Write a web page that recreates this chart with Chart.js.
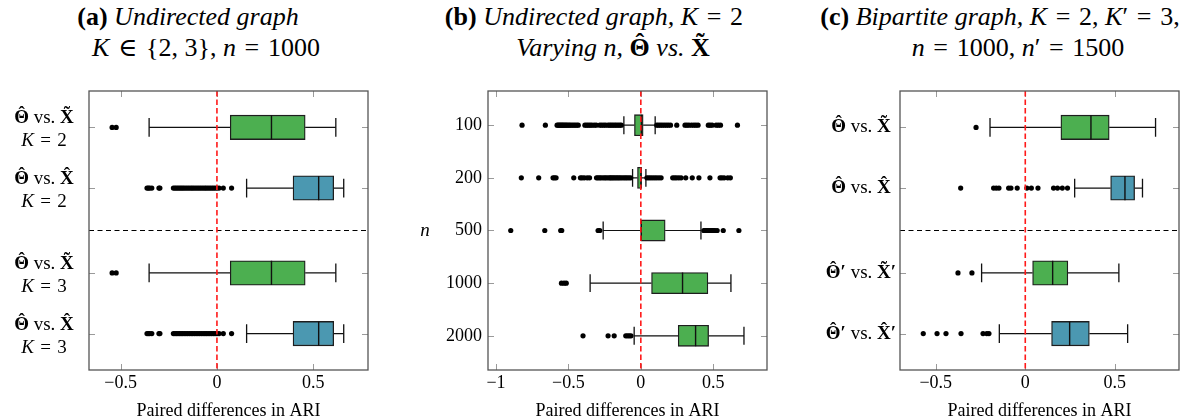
<!DOCTYPE html>
<html>
<head>
<meta charset="utf-8">
<script src="https://cdn.jsdelivr.net/npm/chart.js@4.4.1/dist/chart.umd.min.js"></script>
<style>
  body { margin: 0; width: 1202px; height: 420px; overflow: hidden; background: #fff; position: relative;
         font-family: "Liberation Serif", "DejaVu Serif", serif; color: #000; }
  .title { position: absolute; font-size: 26px; line-height: 30px; white-space: nowrap; transform: translateX(-50%); }
  .acc { position: relative; }
  .acc::after { content: attr(data-a); position: absolute; left: 0; right: 0; text-align: center; top: -0.2em; }
  .panel { position: absolute; top: 60px; height: 370px; }
</style>
</head>
<body>
<div class="title" style="left:188px; top:2px"><b>(a)</b> <i>Undirected graph</i></div>
<div class="title" style="left:206px; top:33px"><i>K</i>&#x2004;∈&#x2004;{2, 3}, <i>n</i>&#x2004;=&#x2004;1000</div>
<div class="title" style="left:594px; top:2px"><b>(b)</b> <i>Undirected graph, K</i>&#x2004;=&#x2004;2</div>
<div class="title" style="left:613px; top:33px"><i>Varying n,</i> <b class="acc" data-a="ˆ">Θ</b> <i>vs.</i> <b class="acc" data-a="˜">X</b></div>
<div class="title" style="left:1000px; top:2px"><b>(c)</b> <i>Bipartite graph, K</i>&#x2004;=&#x2004;2, <i>K</i>′&#x2004;=&#x2004;3,</div>
<div class="title" style="left:1018px; top:33px"><i>n</i>&#x2004;=&#x2004;1000, <i>n</i>′&#x2004;=&#x2004;1500</div>

<div class="panel" style="left:0; width:400px"><canvas id="chartA"></canvas></div>
<div class="panel" style="left:400px; width:400px"><canvas id="chartB"></canvas></div>
<div class="panel" style="left:800px; width:402px"><canvas id="chartC"></canvas></div>

<script>
// ---- panel (a): undirected graph, K in {2,3}, n = 1000
const rowsA = [1, 2, 3.4, 4.4];
const labelsA = [['**Θ̂** vs. **X̃**', '*K* = 2'], ['**Θ̂** vs. **X̂**', '*K* = 2'],
                 ['**Θ̂** vs. **X̃**', '*K* = 3'], ['**Θ̂** vs. **X̂**', '*K* = 3']];
const colorsA = ['green', 'blue', 'green', 'blue'];
const loA  = [-0.352, 0.154, -0.352, 0.154];
const q1A  = [0.069, 0.395, 0.069, 0.395];
const medA = [0.283, 0.528, 0.283, 0.528];
const q3A  = [0.458, 0.606, 0.458, 0.606];
const hiA  = [0.617, 0.658, 0.617, 0.658];
const outBlueA = [-0.363, -0.356, -0.349, -0.338, -0.301, -0.296, -0.226, -0.218, -0.210, -0.202, -0.194,
                  -0.186, -0.178, -0.170, -0.161, -0.152, -0.143, -0.134, -0.126, -0.117, -0.108, -0.099,
                  -0.090, -0.081, -0.072, -0.063, -0.055, -0.046, -0.037, -0.028, -0.019, -0.010, 0.000,
                  0.011, 0.033, 0.076];
const outA = [[-0.544, -0.523], outBlueA, [-0.544, -0.523], outBlueA];
const xTicksA = [-0.5, 0, 0.5];

// ---- panel (b): undirected graph, K = 2, varying n
const rowsB = [1, 2, 3, 4, 5];
const labelsB = ['100', '200', '500', '1000', '2000'];
const colorsB = ['green', 'green', 'green', 'green', 'green'];
const loB  = [-0.117, -0.057, -0.260, -0.350, -0.046];
const q1B  = [-0.044, -0.023, 0.000, 0.074, 0.258];
const medB = [0.004, 0.001, 0.003, 0.288, 0.378];
const q3B  = [0.016, 0.005, 0.168, 0.463, 0.468];
const hiB  = [0.099, 0.035, 0.415, 0.622, 0.712];
const outB = [
  [-0.820, -0.659, -0.578, -0.570, -0.562, -0.555, -0.547, -0.540, -0.532, -0.524, -0.516, -0.508, -0.498,
   -0.489, -0.478, -0.466, -0.455, -0.443, -0.432, -0.386, -0.374, -0.362, -0.350, -0.338, -0.322, -0.308,
   -0.283, -0.270, -0.256, -0.243, -0.226, -0.215, -0.204, -0.193, -0.181, -0.170, -0.158, -0.146, -0.135,
   0.110, 0.122, 0.135, 0.148, 0.162, 0.176, 0.190, 0.205, 0.248, 0.305, 0.318, 0.332, 0.350, 0.366, 0.380,
   0.395, 0.466, 0.478, 0.492, 0.520, 0.535, 0.550, 0.667],
  [-0.825, -0.705, -0.606, -0.596, -0.585, -0.463, -0.417, -0.405, -0.390, -0.370, -0.354, -0.306, -0.296,
   -0.285, -0.275, -0.262, -0.250, -0.240, -0.228, -0.216, -0.208, -0.199, -0.190, -0.180, -0.170, -0.160,
   -0.150, -0.140, -0.128, -0.116, -0.105, -0.094, -0.082, -0.070, 0.042, 0.055, 0.068, 0.082, 0.096, 0.110,
   0.125, 0.140, 0.220, 0.233, 0.246, 0.262, 0.278, 0.310, 0.355, 0.401, 0.477, 0.547, 0.560, 0.575, 0.600,
   0.618],
  [-0.898, -0.663, -0.553, -0.546, -0.295, -0.283, 0.435, 0.442, 0.449, 0.456, 0.463, 0.470, 0.478, 0.486,
   0.494, 0.503, 0.512, 0.527, 0.569, 0.677],
  [-0.548, -0.530, -0.515],
  [-0.399, -0.226, -0.184, -0.104, -0.092, -0.080, -0.068]
];
const xTicksB = [-1, -0.5, 0, 0.5];

// ---- panel (c): bipartite graph, K = 2, K' = 3, n = 1000, n' = 1500
const rowsC = [1, 2, 3.4, 4.4];
const labelsC = ['**Θ̂** vs. **X̃**', '**Θ̂** vs. **X̂**', '**Θ̂′** vs. **X̃′**', '**Θ̂′** vs. **X̂′**'];
const colorsC = ['green', 'blue', 'green', 'blue'];
const loC  = [-0.197, 0.276, -0.244, -0.145];
const q1C  = [0.199, 0.477, 0.041, 0.147];
const medC = [0.367, 0.557, 0.153, 0.248];
const q3C  = [0.469, 0.611, 0.238, 0.358];
const hiC  = [0.728, 0.655, 0.523, 0.572];
const outC = [
  [-0.275],
  [-0.361, -0.177, -0.162, -0.147, -0.093, -0.080, -0.045, 0.009, 0.034, 0.071, 0.158, 0.180, 0.207, 0.236],
  [-0.376, -0.298],
  [-0.570, -0.493, -0.443, -0.359, -0.236, -0.215, -0.203]
];
const xTicksC = [-0.5, 0, 0.5];

const SERIF = '"Liberation Serif", "DejaVu Serif", serif';
const FILL = { green: '#4caf50', blue: '#4b98b1' };
// combining marks are drawn by hand, centred over their base letter
const ACCENT = { '\u0302': '\u02C6', '\u0303': '\u02DC' };

function gap() { return { x: null, y: null }; }

function runText(ctx, t, x, y, size, draw) {
  const chars = Array.from(t);
  let cx = x;
  for (let i = 0; i < chars.length; i++) {
    const w = ctx.measureText(chars[i]).width;
    const acc = ACCENT[chars[i + 1]];
    if (draw) {
      ctx.fillText(chars[i], cx, y);
      if (acc) ctx.fillText(acc, cx + (w - ctx.measureText(acc).width) / 2, y - size * 0.2);
    }
    if (acc) i++;
    cx += w;
  }
  return cx - x;
}

// draw a label with **bold** and *italic* pieces
function drawRich(ctx, text, x, y, size, align) {
  text = text.replace(/ = /g, '\u2004=\u2004');
  const segs = text.split(/(\*\*[^*]+\*\*|\*[^*]+\*)/).filter(s => s).map(p => {
    if (p.startsWith('**')) return { t: p.slice(2, -2), f: 'bold ' + size + 'px ' + SERIF };
    if (p.startsWith('*')) return { t: p.slice(1, -1), f: 'italic ' + size + 'px ' + SERIF };
    return { t: p, f: size + 'px ' + SERIF };
  });
  let w = 0;
  segs.forEach(s => { ctx.font = s.f; s.w = runText(ctx, s.t, 0, 0, size, false); w += s.w; });
  let cx = align === 'right' ? x - w : x - w / 2;
  ctx.textAlign = 'left';
  ctx.textBaseline = 'middle';
  segs.forEach(s => { ctx.font = s.f; runText(ctx, s.t, cx, y, size, true); cx += s.w; });
}

const panelDecor = {
  id: 'panelDecor',
  beforeDatasetsDraw(chart, args, o) {
    const { ctx, chartArea: a, scales: { x, y } } = chart;
    ctx.save();
    if (o.separator != null) {
      const py = y.getPixelForValue(o.separator);
      ctx.strokeStyle = '#000';
      ctx.lineWidth = 1;
      ctx.setLineDash([5, 3.5]);
      ctx.beginPath(); ctx.moveTo(a.left, py); ctx.lineTo(a.right, py); ctx.stroke();
      ctx.setLineDash([]);
    }
    // inner tick marks on all four sides
    ctx.strokeStyle = '#9a9a9a';
    ctx.lineWidth = 1;
    ctx.beginPath();
    o.xTicks.forEach(v => {
      const px = Math.round(x.getPixelForValue(v)) + 0.5;
      ctx.moveTo(px, a.top); ctx.lineTo(px, a.top + 6);
      ctx.moveTo(px, a.bottom); ctx.lineTo(px, a.bottom - 6);
    });
    o.rows.forEach(v => {
      const py = Math.round(y.getPixelForValue(v)) + 0.5;
      ctx.moveTo(a.left, py); ctx.lineTo(a.left + 6, py);
      ctx.moveTo(a.right, py); ctx.lineTo(a.right - 6, py);
    });
    ctx.stroke();
    ctx.restore();
  },
  afterDatasetsDraw(chart, args, o) {
    const { ctx, chartArea: a, scales: { x, y } } = chart;
    ctx.save();
    // zero reference line
    const zx = x.getPixelForValue(0);
    ctx.strokeStyle = '#ff1a1a';
    ctx.lineWidth = 1.6;
    ctx.setLineDash([5.5, 3]);
    ctx.beginPath(); ctx.moveTo(zx, a.top); ctx.lineTo(zx, a.bottom); ctx.stroke();
    ctx.setLineDash([]);
    // frame
    ctx.strokeStyle = '#555';
    ctx.lineWidth = 1.3;
    ctx.strokeRect(a.left, a.top, a.right - a.left, a.bottom - a.top);
    // row labels
    ctx.fillStyle = '#000';
    o.labels.forEach((lab, i) => {
      const py = y.getPixelForValue(o.rows[i]);
      if (Array.isArray(lab)) {
        drawRich(ctx, lab[0], o.labelX, py - 9, o.labelSize, 'center');
        drawRich(ctx, lab[1], o.labelX, py + 14, o.labelSize, 'center');
      } else {
        drawRich(ctx, lab, o.labelX, py, o.labelSize, o.labelAlign);
      }
    });
    if (o.yTitle) drawRich(ctx, o.yTitle, o.yTitleX, (a.top + a.bottom) / 2, 19, 'center');
    ctx.restore();
  }
};

function makePanel(id, d, s) {
  const boxes = [], whiskers = [], caps = [], medians = [], outliers = [];
  d.rows.forEach((r, i) => {
    boxes.push({ y: r, x: [d.q1[i], d.q3[i]] });
    whiskers.push({ x: d.lo[i], y: r }, { x: d.q1[i], y: r }, gap(), { x: d.q3[i], y: r }, { x: d.hi[i], y: r }, gap());
    caps.push({ x: d.lo[i], y: r - s.cap }, { x: d.lo[i], y: r + s.cap }, gap(),
              { x: d.hi[i], y: r - s.cap }, { x: d.hi[i], y: r + s.cap }, gap());
    medians.push({ x: d.med[i], y: r - s.half }, { x: d.med[i], y: r + s.half }, gap());
    d.out[i].forEach(v => outliers.push({ x: v, y: r }));
  });
  const lineDs = (data, w, order) => ({
    type: 'line', data, showLine: true, spanGaps: false, pointRadius: 0, fill: false,
    borderColor: '#111', borderWidth: w, order
  });
  return new Chart(document.getElementById(id), {
    type: 'bar',
    data: {
      datasets: [
        lineDs(whiskers, 1.2, 4),
        {
          type: 'bar', data: boxes, order: 3,
          backgroundColor: d.colors.map(c => FILL[c]),
          borderColor: '#1e1e1e', borderWidth: 1.3, borderSkipped: false,
          barThickness: s.barPx
        },
        lineDs(medians, 1.4, 2),
        lineDs(caps, 1.3, 2),
        {
          type: 'scatter', data: outliers, order: 1,
          pointRadius: 2.6, backgroundColor: '#000', borderWidth: 0
        }
      ]
    },
    options: {
      indexAxis: 'y',
      responsive: true,
      maintainAspectRatio: false,
      animation: false,
      events: [],
      layout: { padding: { top: 31, right: s.padRight, bottom: 0, left: 0 } },
      scales: {
        x: {
          type: 'linear', min: s.xMin, max: s.xMax, offset: false,
          grid: { display: false, drawTicks: false },
          border: { display: false },
          afterBuildTicks: sc => { sc.ticks = d.xTicks.map(v => ({ value: v })); },
          afterFit: sc => { sc.height = 60; },
          ticks: {
            padding: 2, color: '#000', font: { family: SERIF, size: 18 },
            callback: v => String(v).replace('-', '\u2212')
          },
          title: {
            display: true, text: 'Paired differences in ARI', color: '#000',
            font: { family: SERIF, size: 18 }, padding: { top: 0, bottom: 8 }
          }
        },
        y: {
          type: 'linear', min: s.yMin, max: s.yMax, reverse: true, offset: false,
          grid: { display: false, drawTicks: false },
          border: { display: false },
          ticks: { display: false },
          afterFit: sc => { sc.width = s.axisW; }
        }
      },
      plugins: {
        legend: { display: false },
        tooltip: { enabled: false },
        panelDecor: {
          rows: d.rows, labels: d.labels, xTicks: d.xTicks, separator: s.separator,
          labelX: s.labelX, labelAlign: s.labelAlign, labelSize: s.labelSize,
          yTitle: s.yTitle, yTitleX: s.yTitleX
        }
      }
    },
    plugins: [panelDecor]
  });
}

makePanel('chartA',
  { rows: rowsA, labels: labelsA, colors: colorsA, lo: loA, q1: q1A, med: medA, q3: q3A, hi: hiA, out: outA, xTicks: xTicksA },
  { xMin: -0.664, xMax: 0.784, yMin: 0.4, yMax: 5.0, axisW: 89, padRight: 32, barPx: 24.4, half: 0.2, cap: 0.155,
    separator: 2.7, labelX: 44, labelAlign: 'center', labelSize: 19 });

makePanel('chartB',
  { rows: rowsB, labels: labelsB, colors: colorsB, lo: loB, q1: q1B, med: medB, q3: q3B, hi: hiB, out: outB, xTicks: xTicksB },
  { xMin: -1.055, xMax: 0.871, yMin: 0.35, yMax: 5.65, axisW: 88, padRight: 33, barPx: 21.1, half: 0.2, cap: 0.17,
    separator: null, labelX: 82, labelAlign: 'right', labelSize: 18, yTitle: '*n*', yTitleX: 25 });

makePanel('chartC',
  { rows: rowsC, labels: labelsC, colors: colorsC, lo: loC, q1: q1C, med: medC, q3: q3C, hi: hiC, out: outC, xTicks: xTicksC },
  { xMin: -0.700, xMax: 0.859, yMin: 0.4, yMax: 5.0, axisW: 100, padRight: 23, barPx: 24.4, half: 0.2, cap: 0.155,
    separator: 2.7, labelX: 61, labelAlign: 'center', labelSize: 19 });
</script>
</body>
</html>
